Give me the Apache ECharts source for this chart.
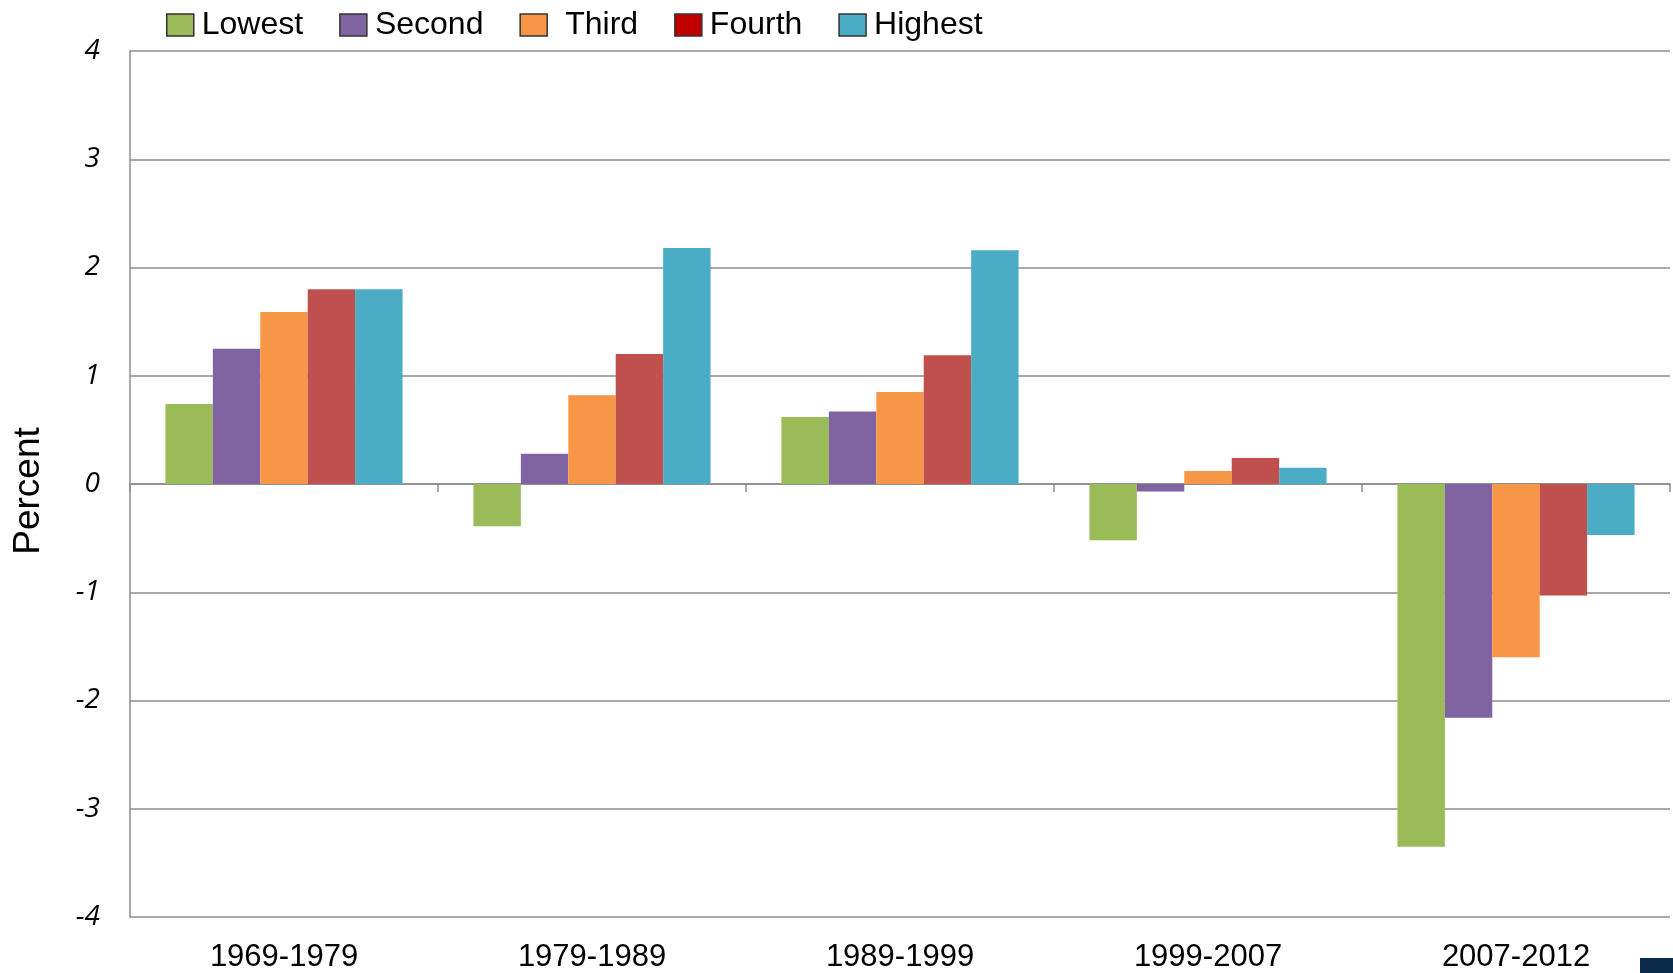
<!DOCTYPE html>
<html>
<head>
<meta charset="utf-8">
<script src="https://cdn.jsdelivr.net/npm/echarts@6/dist/echarts.min.js"></script>
<style>
  html, body { margin: 0; padding: 0; background: #fff; }
  #chart { width: 1673px; height: 973px; }
</style>
</head>
<body>
<div id="chart"></div>
<script>
const periods = ['1969-1979', '1979-1989', '1989-1999', '1999-2007', '2007-2012'];
const seriesNames = ['Lowest', 'Second', 'Third', 'Fourth', 'Highest'];
const lowest = [0.74, -0.39, 0.62, -0.52, -3.35];
const second = [1.25, 0.28, 0.67, -0.07, -2.16];
const third = [1.59, 0.82, 0.85, 0.12, -1.60];
const fourth = [1.80, 1.20, 1.19, 0.24, -1.03];
const highest = [1.80, 2.18, 2.16, 0.15, -0.47];
const yTicks = [-4, -3, -2, -1, 0, 1, 2, 3, 4];

const barColors = ['#9BBB59', '#8064A2', '#F79646', '#C0504D', '#4BACC6'];
const legendColors = ['#9BBB59', '#8064A2', '#F79646', '#C00000', '#4BACC6'];
const values = [lowest, second, third, fourth, highest];

const chart = echarts.init(document.getElementById('chart'));

const option = {
  animation: false,
  legend: {
    top: 4,
    left: 161,
    icon: 'rect',
    itemWidth: 27,
    itemHeight: 22,
    itemGap: 36,
    textStyle: { fontFamily: 'Liberation Sans', fontSize: 32, color: '#000', padding: [0, 0, 0, 3] },
    data: seriesNames.map((n, i) => ({
      name: n,
      itemStyle: { color: legendColors[i], borderColor: '#333', borderWidth: 1.5 },
      textStyle: n === 'Third' ? { padding: [6, 0, 0, 13] } : undefined,
    })),
  },
  grid: { left: 130, right: 3, top: 51, bottom: 52 },
  xAxis: [{
    type: 'category',
    data: periods,
    axisLine: { onZero: true, lineStyle: { color: '#8c8c8c', width: 1.5 } },
    axisTick: { show: true, length: 8, lineStyle: { color: '#8c8c8c', width: 1.5 } },
    axisLabel: { show: false },
  }, {
    type: 'category',
    data: periods,
    position: 'bottom',
    axisLine: { show: false, onZero: false },
    axisTick: { show: false },
    axisLabel: { fontFamily: 'Liberation Sans', fontSize: 31, color: '#000', margin: 25 },
  }],
  yAxis: {
    type: 'value',
    min: yTicks[0],
    max: yTicks[yTicks.length - 1],
    interval: 1,
    axisLine: { show: true, lineStyle: { color: '#8c8c8c', width: 1.5 } },
    axisTick: { show: false },
    splitLine: { lineStyle: { color: '#8c8c8c', width: 1.5 } },
    axisLabel: { fontFamily: 'Open Sans', fontStyle: 'italic', fontSize: 28, color: '#000', margin: 30 },
  },
  series: seriesNames.map((n, i) => ({
    name: n,
    type: 'bar',
    xAxisIndex: 0,
    barGap: '0%',
    barCategoryGap: '23%',
    itemStyle: { color: barColors[i] },
    data: values[i],
  })),
  graphic: [{
    type: 'text',
    x: 29,
    y: 491,
    rotation: Math.PI / 2,
    style: {
      text: 'Percent',
      fontFamily: 'Liberation Sans',
      fontSize: 37,
      fill: '#000',
      align: 'center',
      verticalAlign: 'middle',
    },
  }, {
    type: 'rect',
    right: 0,
    bottom: 0,
    shape: { width: 33, height: 15 },
    style: { fill: '#0b2a4a' },
  }],
};
chart.setOption(option);
</script>
</body>
</html>
